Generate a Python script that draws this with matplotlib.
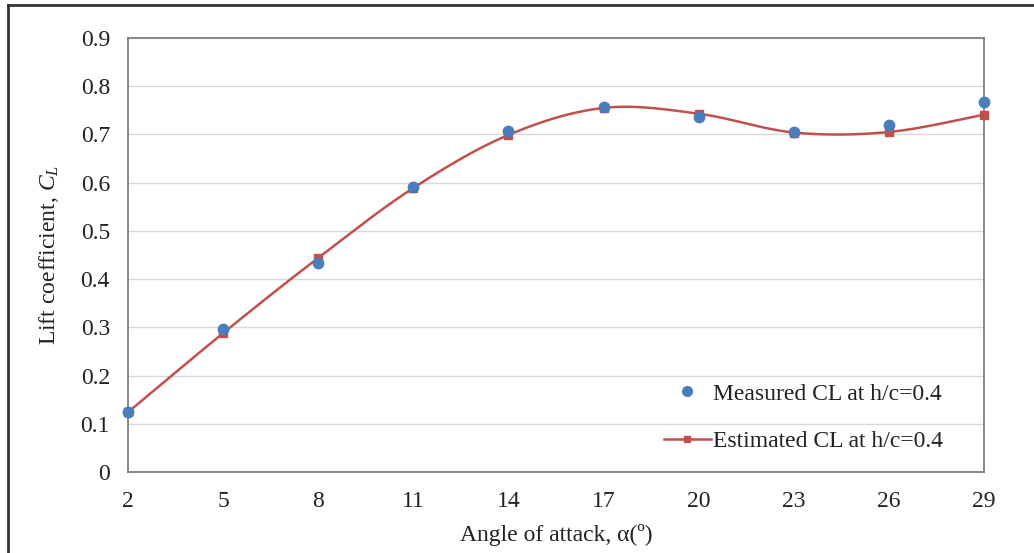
import numpy as np
import matplotlib
matplotlib.use("Agg")
import matplotlib.pyplot as plt
from matplotlib.lines import Line2D

angles = [2, 5, 8, 11, 14, 17, 20, 23, 26, 29]
measured_cl = [0.124, 0.297, 0.434, 0.591, 0.707, 0.757, 0.736, 0.705, 0.720, 0.768]
estimated_cl = [0.124, 0.288, 0.444, 0.589, 0.699, 0.755, 0.743, 0.704, 0.705, 0.741]
yticks = [0, 0.1, 0.2, 0.3, 0.4, 0.5, 0.6, 0.7, 0.8, 0.9]
ytick_labels = ["0", "0.1", "0.2", "0.3", "0.4", "0.5", "0.6", "0.7", "0.8", "0.9"]

plt.rcParams['font.family'] = ['Liberation Serif', 'DejaVu Serif']
plt.rcParams['mathtext.fontset'] = 'custom'
plt.rcParams['mathtext.it'] = 'Liberation Serif:italic'
plt.rcParams['mathtext.rm'] = 'Liberation Serif'

def excel_smooth(x, y, n=40):
    x = np.asarray(x, float); y = np.asarray(y, float)
    P = np.column_stack([x, y])
    pts = []
    m = len(P)
    for i in range(m - 1):
        p0 = P[i]; p3 = P[i + 1]
        pm = P[i - 1] if i > 0 else P[i]
        pp = P[i + 2] if i + 2 < m else P[i + 1]
        c1 = p0 + (p3 - pm) / 6.0
        c2 = p3 - (pp - p0) / 6.0
        t = np.linspace(0, 1, n)[:, None]
        seg = ((1 - t) ** 3) * p0 + 3 * ((1 - t) ** 2) * t * c1 + 3 * (1 - t) * t ** 2 * c2 + t ** 3 * p3
        pts.append(seg if i == 0 else seg[1:])
    pts = np.vstack(pts)
    return pts[:, 0], pts[:, 1]

fig = plt.figure(figsize=(10.34, 5.53), dpi=100)
ax = fig.add_axes([0.1238, 0.1465, 0.8279, 0.7848])

blue = '#4A7EBB'
red = '#C0504D'
FS = 17

sx, sy = excel_smooth(angles, estimated_cl)
ax.plot(sx, sy, color=red, lw=1.8, zorder=2, clip_on=False)
ax.plot(angles, estimated_cl, linestyle='none', marker='s', ms=5.5, color=red, zorder=3, clip_on=False)
ax.plot(angles, measured_cl, linestyle='none', marker='o', ms=7.5, color=blue, zorder=4, clip_on=False)

ax.set_xlim(2, 29)
ax.set_ylim(0, 0.9)
ax.set_xticks(angles)
ax.set_xticklabels([str(a) for a in angles])
ax.set_yticks(yticks)
ax.set_yticklabels(ytick_labels)
ax.tick_params(length=0, labelsize=FS, colors='#222222')
ax.tick_params(axis='x', pad=14)
ax.tick_params(axis='y', pad=13)
ax.grid(axis='y', color='#D9D9D9', lw=1)
ax.set_axisbelow(True)
for s in ax.spines.values():
    s.set_color('#808080')
    s.set_linewidth(1.3)

ax.set_xlabel('Angle of attack, α(º)', fontsize=FS, labelpad=8, color='#222222')
ax.set_ylabel('Lift coefficient, $C_L$', fontsize=FS, labelpad=14, color='#222222')

h1 = Line2D([], [], linestyle='none', marker='o', ms=7, color=blue)
h2 = Line2D([], [], color=red, lw=1.8, marker='s', ms=5)
leg = ax.legend([h1, h2], ['Measured CL at h/c=0.4', 'Estimated CL at h/c=0.4'],
                loc='lower right', bbox_to_anchor=(0.977, -0.003), frameon=False,
                fontsize=FS, labelspacing=1.1, handlelength=2.0, handletextpad=0.1)
for t in leg.get_texts():
    t.set_color('#222222')

# outer border
fig.add_artist(Line2D([8/1034, 8/1034], [0, 1 - 5/553], transform=fig.transFigure, color='#333333', lw=2))
fig.add_artist(Line2D([8/1034, 1], [1 - 5/553, 1 - 5/553], transform=fig.transFigure, color='#333333', lw=2))

fig.savefig('out.png', dpi=100, facecolor='white')
